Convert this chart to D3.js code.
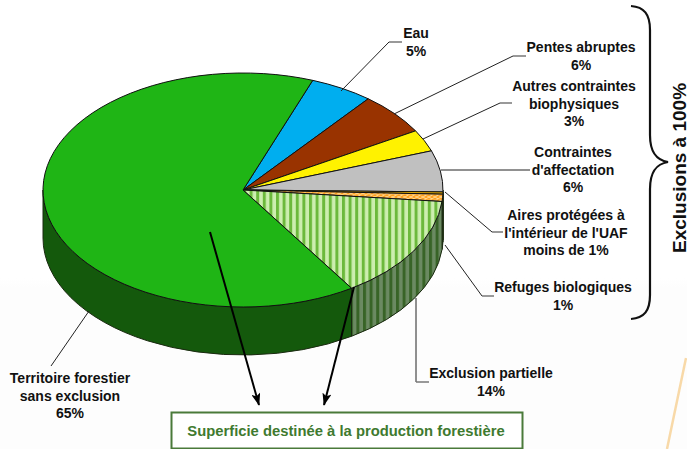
<!DOCTYPE html>
<html lang="fr">
<head>
<meta charset="utf-8">
<title>Superficie forestière</title>
<script src="https://d3js.org/d3.v7.min.js"></script>
<style>
  html, body { margin: 0; background: #fff; }
  svg { display: block; }
  .label { font-family: "Liberation Sans", Arial, sans-serif; font-size: 14px; font-weight: bold; fill: #111; text-anchor: middle; }
  .leader { fill: none; stroke: #222; stroke-width: 1; }
  .stub { fill: none; stroke: #777; stroke-width: 1.5; }
</style>
</head>
<body>
<svg width="687" height="449"></svg>
<script>
// slices, clockwise from the Eau wedge
const categories = [
  ["Eau"],
  ["Pentes abruptes"],
  ["Autres contraintes", "biophysiques"],
  ["Contraintes", "d'affectation"],
  ["Aires protégées à", "l'intérieur de l'UAF"],
  ["Refuges biologiques"],
  ["Exclusion partielle"],
  ["Territoire forestier", "sans exclusion"]
];
const shownValues = ["5%", "6%", "3%", "6%", "moins de 1%", "1%", "14%", "65%"];
const values = [5.1, 5.8, 3, 5.7, 0.3, 1, 14.3, 64.8];

const topColors = ["#00aeef", "#993300", "#fff200", "#c0c0c0", "#ffc000", "url(#hatch)", "url(#stripes)", "#1fb515"];
const wallColors = ["#00709a", "#5f2000", "#a09800", "#808080", "#a07800", "#4a6a38", "url(#stripesDark)", "#14590c"];

const svg = d3.select("svg");

const cx = 243, cy = 190, rx = 200, ry = 117, depth = 48;
const startDeg = 20.4;
const rad = d => d * Math.PI / 180;

const defs = svg.append("defs");

const bg = defs.append("linearGradient").attr("id", "bg").attr("x1", 0).attr("x2", 0).attr("y1", 0).attr("y2", 1);
bg.append("stop").attr("offset", 0.62).attr("stop-color", "#ffffff");
bg.append("stop").attr("offset", 0.64).attr("stop-color", "#fdfdfd");
bg.append("stop").attr("offset", 1).attr("stop-color", "#fdfdfd");

function stripes(id, back, band) {
  const p = defs.append("pattern").attr("id", id).attr("patternUnits", "userSpaceOnUse")
    .attr("width", 6.6).attr("height", 8);
  p.append("rect").attr("width", 6.6).attr("height", 8).attr("fill", back);
  p.append("rect").attr("x", 0).attr("width", 3).attr("height", 8).attr("fill", band);
}
stripes("stripes", "#cdeeb0", "#6cb93c");
stripes("stripesDark", "#6b8a62", "#386427");

const hatch = defs.append("pattern").attr("id", "hatch").attr("patternUnits", "userSpaceOnUse")
  .attr("width", 6).attr("height", 6);
hatch.append("rect").attr("width", 6).attr("height", 6).attr("fill", "#ff9f1c");
hatch.append("path").attr("d", "M0 0L6 6M6 0L0 6").attr("stroke", "#ffdc9a").attr("stroke-width", 1.2);

svg.append("rect").attr("width", 687).attr("height", 449).attr("fill", "url(#bg)");

// orange streak, bottom right
svg.append("line").attr("x1", 686).attr("y1", 358).attr("x2", 667).attr("y2", 449)
  .attr("stroke", "#f8d9a8").attr("stroke-width", 2.5);

const pie = d3.pie().sort(null)
  .startAngle(rad(startDeg))
  .endAngle(rad(startDeg + 360));
const slices = pie(values);

// the side of the disc, only where it faces the viewer
const ex = a => cx + rx * Math.sin(a);
const ey = a => cy - ry * Math.cos(a);
function wall(d) {
  const a0 = Math.max(d.startAngle, rad(90));
  const a1 = Math.min(d.endAngle, rad(270));
  if (a1 <= a0) return null;
  return `M${ex(a0)},${ey(a0)}A${rx},${ry} 0 0 1 ${ex(a1)},${ey(a1)}` +
    `L${ex(a1)},${ey(a1) + depth}A${rx},${ry} 0 0 0 ${ex(a0)},${ey(a0) + depth}Z`;
}

svg.append("g").selectAll("path")
  .data(slices)
  .join("path")
  .attr("d", wall)
  .attr("fill", (d, i) => wallColors[i])
  .attr("stroke", "#1a2a10")
  .attr("stroke-width", 1);

const arc = d3.arc().innerRadius(0).outerRadius(rx);

svg.append("g")
  .attr("transform", `translate(${cx},${cy}) scale(1,${ry / rx})`)
  .selectAll("path")
  .data(slices)
  .join("path")
  .attr("d", arc)
  .attr("fill", (d, i) => topColors[i])
  .attr("stroke", "#111")
  .attr("stroke-width", 1)
  .attr("vector-effect", "non-scaling-stroke");

// leader lines
const leaders = [
  [[341, 91], [389, 42]],
  [[394, 114], [513, 56]],
  [[423, 139], [500, 103]],
  [[441, 170], [530, 170]],
  [[445, 192], [492, 232]],
  [[445, 245], [482, 296]],
  [[416, 298], [416, 382]],
  [[89, 311], [51, 366]]
];
const stubs = [402, 526, 512, null, 503, 494, 429, null];
const line = d3.line();
svg.append("g").selectAll("path").data(leaders).join("path")
  .attr("class", "leader").attr("d", line);
svg.append("g").selectAll("path")
  .data(leaders.map((l, i) => stubs[i] ? [l[1], [stubs[i], l[1][1]]] : null).filter(Boolean))
  .join("path").attr("class", "stub").attr("d", line);

// labels
const labelX = [416, 581, 574, 573, 566, 563, 491, 70];
const labelY = [33, 47, 86, 152, 215, 287, 373, 378];
const lineGap = 17.6;
const groups = svg.append("g").selectAll("g").data(categories).join("g");
groups.each(function (lines, i) {
  const all = lines.concat(shownValues[i]);
  d3.select(this).selectAll("text").data(all).join("text")
    .attr("class", "label")
    .attr("x", labelX[i])
    .attr("y", (t, k) => labelY[i] + k * lineGap + 5)
    .text(t => t);
});

// brace
svg.append("path")
  .attr("d", "M631,6C644,7 650,14 650,30L650,135C650,152 656,160 668,162C656,164 650,172 650,189L650,295C650,311 644,318 631,319")
  .attr("fill", "none").attr("stroke", "#111").attr("stroke-width", 2.2);
svg.append("text")
  .attr("transform", "translate(686,168) rotate(-90)")
  .attr("text-anchor", "middle")
  .attr("font-family", "Liberation Sans, Arial, sans-serif")
  .attr("font-size", 19)
  .attr("font-weight", "bold")
  .attr("fill", "#111")
  .text("Exclusions à 100%");

// arrows down to the box
defs.append("marker").attr("id", "head").attr("viewBox", "0 0 14 10")
  .attr("refX", 13).attr("refY", 5).attr("markerWidth", 13).attr("markerHeight", 9)
  .attr("markerUnits", "userSpaceOnUse").attr("orient", "auto")
  .append("path").attr("d", "M0,0L14,5L0,10L3,5Z").attr("fill", "#000");
const arrows = [
  [[210, 232], [259, 405]],
  [[354, 287], [324, 405]]
];
svg.append("g").selectAll("line").data(arrows).join("line")
  .attr("x1", d => d[0][0]).attr("y1", d => d[0][1])
  .attr("x2", d => d[1][0]).attr("y2", d => d[1][1])
  .attr("stroke", "#000").attr("stroke-width", 2)
  .attr("marker-end", "url(#head)");

// box
svg.append("rect").attr("x", 171.5).attr("y", 412.5).attr("width", 351).attr("height", 36)
  .attr("fill", "#fff").attr("stroke", "#4a7a3a").attr("stroke-width", 2);
svg.append("text")
  .attr("x", 346).attr("y", 436)
  .attr("text-anchor", "middle")
  .attr("font-family", "Liberation Sans, Arial, sans-serif")
  .attr("font-size", 14.8)
  .attr("font-weight", "bold")
  .attr("fill", "#3f7a2f")
  .text("Superficie destinée à la production forestière");
</script>
</body>
</html>
